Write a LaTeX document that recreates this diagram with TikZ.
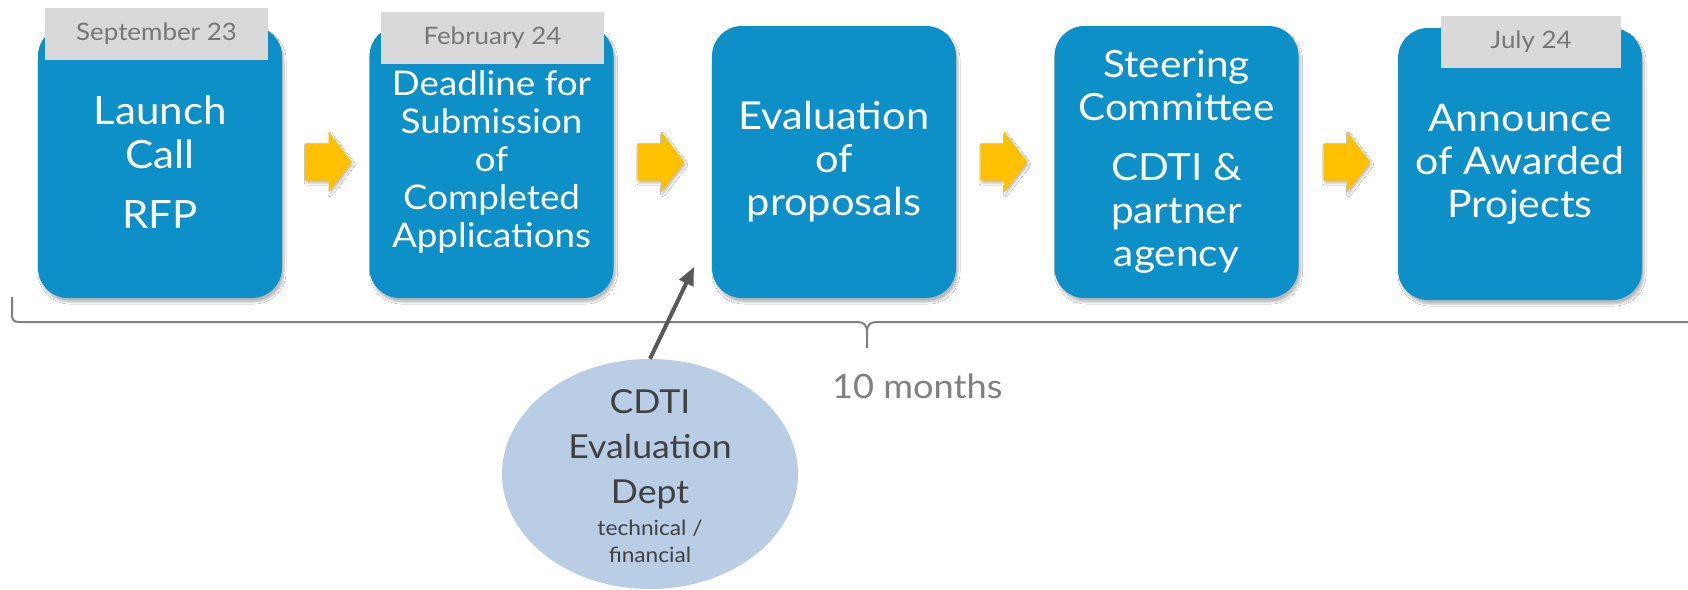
\documentclass[tikz,border=0pt]{standalone}
\usepackage{fontspec}
\setmainfont{Lato}[FakeStretch=1.08]
\usetikzlibrary{shapes.arrows,shapes.geometric,arrows.meta,shadows.blur,calc}
\definecolor{boxblue}{RGB}{13,144,199}
\definecolor{lblgray}{RGB}{217,217,217}
\definecolor{lbltext}{RGB}{118,118,118}
\definecolor{arrowyellow}{RGB}{255,192,0}
\definecolor{bracegray}{RGB}{128,128,128}
\definecolor{ellfill}{RGB}{185,205,229}
\definecolor{elltext}{RGB}{64,64,64}
\definecolor{pointercol}{RGB}{89,89,89}
\begin{document}
\begin{tikzpicture}[x=1pt,y=-1pt,
  softshadow/.style={blur shadow={shadow xshift=2pt,shadow yshift=-4pt,shadow opacity=28,shadow blur steps=6}},
  stepbox/.style={fill=boxblue,rounded corners=30pt,minimum width=244pt,minimum height=272pt,
    inner sep=0pt,text=white,align=center,softshadow},
  datelbl/.style={fill=lblgray,minimum height=52pt,inner sep=0pt,text=lbltext,
    font=\fontsize{24}{28}\selectfont},
  flowarrow/.style={single arrow,fill=arrowyellow,minimum height=47pt,inner xsep=0pt,
    inner ysep=18.5pt,single arrow head extend=11.5pt,single arrow tip angle=105,anchor=tail,
    blur shadow={shadow xshift=1.5pt,shadow yshift=-2.5pt,shadow opacity=25,shadow blur steps=4}},
]
\fill[white] (0,0) rectangle (1688,589);
\useasboundingbox (0,0) rectangle (1688,589);

% boxes
\node[stepbox,font=\fontsize{39}{44}\selectfont] (b1) at (160,162) {Launch\\Call\\[16pt]RFP};
\node[stepbox,font=\fontsize{34}{38}\selectfont] (b2) at (491.5,162) {Deadline for\\Submission\\of\\Completed\\Applications};
\node[stepbox,font=\fontsize{38.5}{43}\selectfont] (b3) at (834,162) {Evaluation\\of\\proposals};
\node[stepbox,font=\fontsize{37.5}{43}\selectfont] (b4) at (1176.5,162) {Steering\\Committee\\[17pt]CDTI \&\\partner\\agency};
\node[stepbox,font=\fontsize{38}{43}\selectfont] (b5) at (1520,164) {Announce\\of Awarded\\Projects};

% yellow arrows
\node[flowarrow] (a1) at ([xshift=22.5pt]b1.east) {};
\node[flowarrow] (a2) at ([xshift=23.5pt]b2.east) {};
\node[flowarrow] (a3) at ([xshift=24pt]b3.east) {};
\node[flowarrow] (a4) at ([xshift=24.5pt]b4.east |- b3.east) {};

% date labels
\node[datelbl,minimum width=223pt] (d1) at (156.5,34) {September 23};
\node[datelbl,minimum width=223pt] (d2) at (492.5,38) {February 24};
\node[datelbl,minimum width=180pt] (d3) at (1531,42) {July 24};

% brace
\coordinate (bracetip) at (867,348);
\draw[bracegray,line width=2pt]
  (12,297) -- (12,315) .. controls (12,320) and (14,322) .. (19,322)
  -- (857,322) .. controls (864,322) and (867,325) .. (867,332) -- (bracetip);
\draw[bracegray,line width=2pt]
  (867,332) .. controls (867,325) and (870,322) .. (877,322) -- (1692,322);
\node[anchor=base west,text=bracegray,font=\fontsize{33.5}{40}\selectfont,inner sep=0pt] (months) at (832,398) {10 months};

% evaluation department
\node[ellipse,fill=ellfill,minimum width=296pt,minimum height=230pt,inner sep=0pt] (ev) at (650,474) {};
\node[text=elltext,align=center,inner sep=0pt,font=\fontsize{33}{45}\selectfont] (evmain) at (650,449) {CDTI\\Evaluation\\Dept};
\node[text=elltext,align=center,inner sep=0pt,font=\fontsize{21}{27}\selectfont] (evsub) at (650,541) {technical /\\financial};

\coordinate (evtip) at (694,267);
\draw[pointercol,line width=4pt,-{Triangle[length=18pt,width=15pt]}] (ev.north) -- (evtip);
\end{tikzpicture}
\end{document}
